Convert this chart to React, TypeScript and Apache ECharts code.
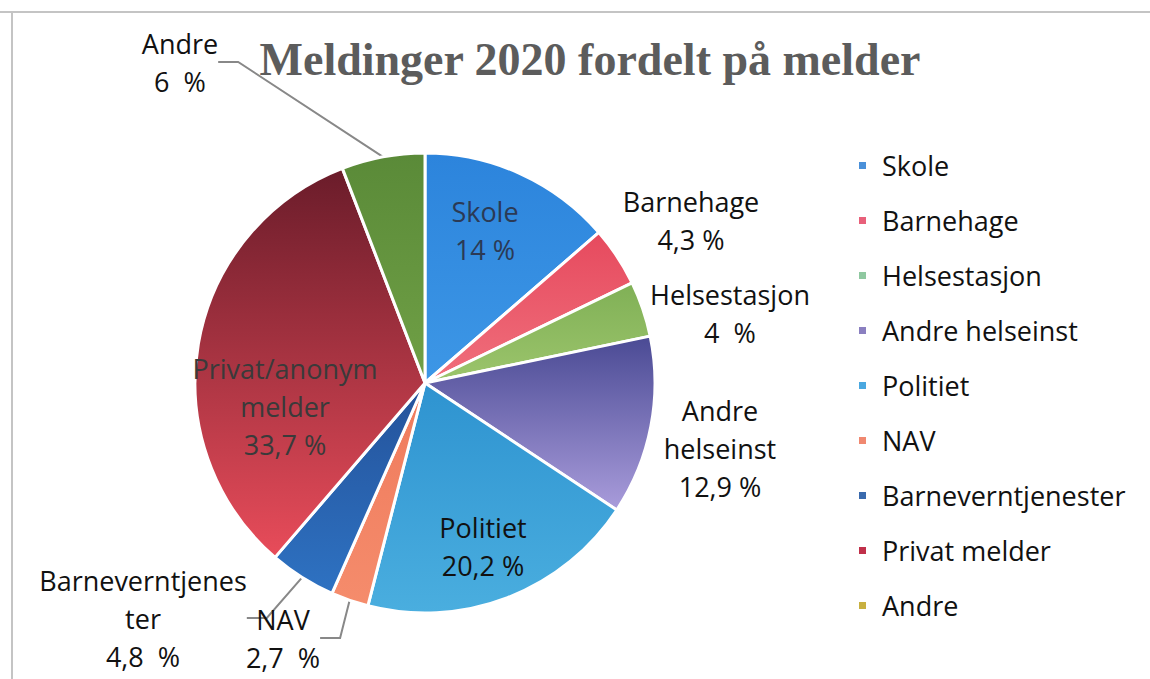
import React, { useEffect, useRef } from "react";
import * as echarts from "echarts";

const categories = [
  "Skole",
  "Barnehage",
  "Helsestasjon",
  "Andre helseinst",
  "Politiet",
  "NAV",
  "Barneverntjenester",
  "Privat melder",
  "Andre",
];
const values = [14, 4.3, 4, 12.9, 20.2, 2.7, 4.8, 33.7, 6];
const labelTexts = [
  "Skole\n14 %",
  "Barnehage\n4,3 %",
  "Helsestasjon\n4  %",
  "Andre\nhelseinst\n12,9 %",
  "Politiet\n20,2 %",
  "NAV\n2,7  %",
  "Barneverntjenes\nter\n4,8  %",
  "Privat/anonym\nmelder\n33,7 %",
  "Andre\n6  %",
];
const titleText = "Meldinger 2020 fordelt på melder";

// styling (not data)
const sliceStops = [
  ["#2c84dc", "#3d97e6"],
  ["#e64a5e", "#f06f7c"],
  ["#80b056", "#9cc56c"],
  ["#4a4a94", "#a99cdb"],
  ["#2e93d0", "#4aaedf"],
  ["#ef7a5c", "#f58c6c"],
  ["#24529a", "#2e72c2"],
  ["#6a1c2a", "#e84c5a"],
  ["#5a8a38", "#70a046"],
];
const legendColors = [
  "#4a90d9",
  "#e8607a",
  "#8fc8a0",
  "#8a7fc0",
  "#4aa8e0",
  "#f08870",
  "#3a6aad",
  "#c0304a",
  "#c8b040",
];
const labelPos = [
  [485, 230],
  [691, 220],
  [730, 313],
  [720, 448],
  [483, 546],
  [283, 638],
  [143, 618],
  [285, 406],
  [180, 62],
];
const labelColors = ["#2b3a55", "#111", "#111", "#111", "#111", "#111", "#111", "#3a3a3a", "#111"];
const showLine = [false, false, false, false, false, true, true, false, true];

export default function App() {
  const ref = useRef<HTMLDivElement>(null);
  useEffect(() => {
    if (!ref.current) return;
    const chart = echarts.init(ref.current, undefined, { renderer: "svg" });
    const font = "Open Sans";
    chart.setOption({
      animation: false,
      backgroundColor: "#ffffff",
      title: {
        text: titleText,
        left: 585,
        top: 31,
        textAlign: "center",
        textStyle: {
          fontFamily: "Liberation Serif",
          fontWeight: "bold",
          fontSize: 46,
          color: "#5c5c5c",
        },
      },
      legend: {
        orient: "vertical",
        left: 852,
        top: 147,
        itemWidth: 9,
        itemHeight: 9,
        itemGap: 28,
        icon: "rect",
        textStyle: {
          fontFamily: font,
          fontSize: 27,
          lineHeight: 27,
          color: "#111",
          padding: [0, 0, 0, 10],
        },
        data: categories.map((c, i) => ({ name: c, itemStyle: { color: legendColors[i] } })),
      },
      graphic: [
        { type: "line", shape: { x1: 0, y1: 12, x2: 1150, y2: 12 }, style: { stroke: "#c4c4c4", lineWidth: 2 } },
        { type: "line", shape: { x1: 12, y1: 12, x2: 12, y2: 679 }, style: { stroke: "#c4c4c4", lineWidth: 2 } },
      ],
      series: [
        {
          type: "pie",
          center: [425, 383],
          radius: [0, 230],
          startAngle: 90,
          clockwise: true,
          avoidLabelOverlap: false,
          itemStyle: { borderColor: "#fff", borderWidth: 3 },
          labelLine: { lineStyle: { color: "#888", width: 2 }, length: 20, length2: 20 },
          labelLayout: (p: any) => ({
            x: labelPos[p.dataIndex][0],
            y: labelPos[p.dataIndex][1],
            align: "center",
            verticalAlign: "middle",
          }),
          data: categories.map((c, i) => ({
            name: c,
            value: values[i],
            itemStyle: {
              color: new echarts.graphic.LinearGradient(0, 0, 0, 1, [
                { offset: 0, color: sliceStops[i][0] },
                { offset: 1, color: sliceStops[i][1] },
              ]),
            },
            label: {
              show: true,
              position: showLine[i] ? "outside" : "inside",
              formatter: labelTexts[i],
              fontFamily: font,
              fontSize: 27,
              lineHeight: 38,
              color: labelColors[i],
              align: "center",
            },
            labelLine: { show: showLine[i] },
          })),
        },
      ],
    });
    return () => chart.dispose();
  }, []);
  return (
    <div
      ref={ref}
      style={{ position: "fixed", left: 0, top: 0, width: 1150, height: 679 }}
    />
  );
}
